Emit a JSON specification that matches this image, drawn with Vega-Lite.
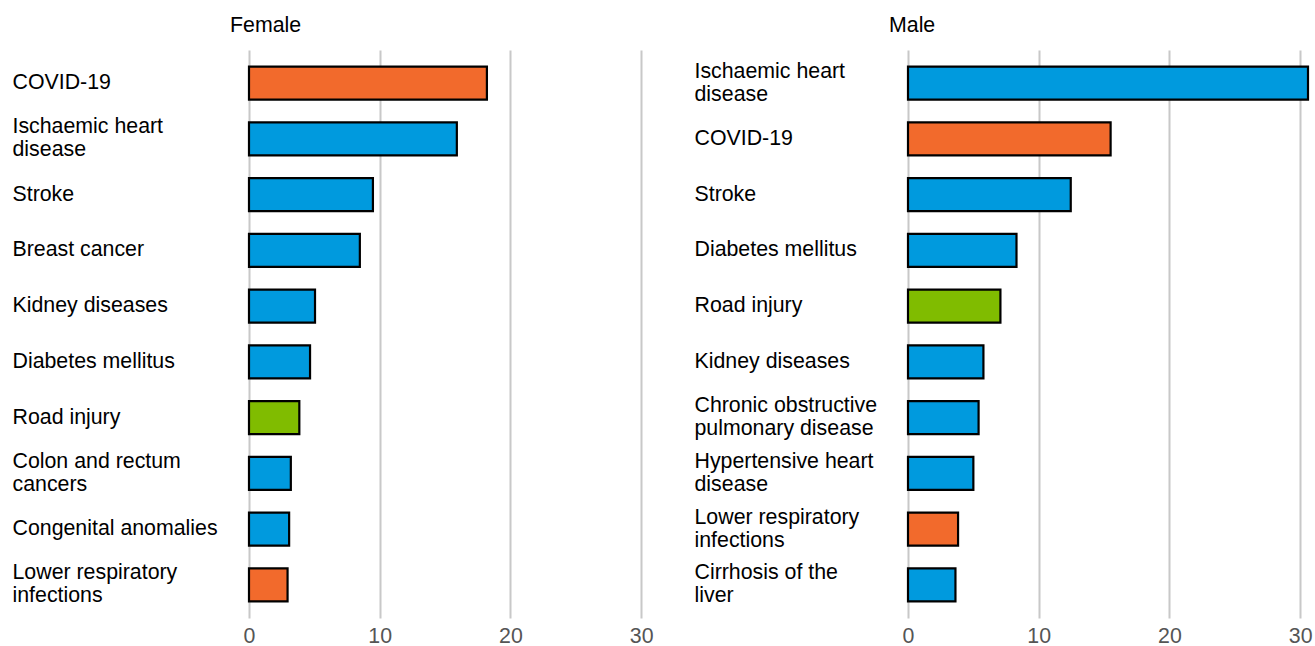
{
  "$schema": "https://vega.github.io/schema/vega-lite/v6.json",
  "background": "white",
  "padding": {"left": 12, "top": 14, "right": 0, "bottom": 0},
  "spacing": 40,
  "config": {
    "view": {"stroke": null},
    "font": "Liberation Sans",
    "title": {"fontSize": 21.33, "fontWeight": "normal", "color": "#000000", "anchor": "start", "frame": "group", "baseline": "alphabetic", "offset": 14, "dx": -19},
    "axisX": {"grid": true, "gridColor": "#c8c8c8", "gridWidth": 2, "domain": false, "ticks": false, "tickSize": 0, "labelFontSize": 21.33, "labelColor": "#555555", "labelPadding": 7, "title": null, "labelFlush": false},
    "axisY": {"grid": false, "domain": false, "ticks": false, "tickSize": 0, "labelFontSize": 21.33, "labelColor": "#000000", "labelAlign": "left", "labelLineHeight": 23, "labelLimit": 400, "title": null}
  },
  "data": {
    "values": [
      {"sex": "Female", "cause": "COVID-19", "group": "Communicable", "value": 18.2},
      {"sex": "Female", "cause": "Ischaemic heart\ndisease", "group": "Noncommunicable", "value": 15.9},
      {"sex": "Female", "cause": "Stroke", "group": "Noncommunicable", "value": 9.48},
      {"sex": "Female", "cause": "Breast cancer", "group": "Noncommunicable", "value": 8.48},
      {"sex": "Female", "cause": "Kidney diseases", "group": "Noncommunicable", "value": 5.05},
      {"sex": "Female", "cause": "Diabetes mellitus", "group": "Noncommunicable", "value": 4.67},
      {"sex": "Female", "cause": "Road injury", "group": "Injuries", "value": 3.85},
      {"sex": "Female", "cause": "Colon and rectum\ncancers", "group": "Noncommunicable", "value": 3.2},
      {"sex": "Female", "cause": "Congenital anomalies", "group": "Noncommunicable", "value": 3.07},
      {"sex": "Female", "cause": "Lower respiratory\ninfections", "group": "Communicable", "value": 2.95},
      {"sex": "Male", "cause": "Ischaemic heart\ndisease", "group": "Noncommunicable", "value": 30.6},
      {"sex": "Male", "cause": "COVID-19", "group": "Communicable", "value": 15.5},
      {"sex": "Male", "cause": "Stroke", "group": "Noncommunicable", "value": 12.45},
      {"sex": "Male", "cause": "Diabetes mellitus", "group": "Noncommunicable", "value": 8.3},
      {"sex": "Male", "cause": "Road injury", "group": "Injuries", "value": 7.07},
      {"sex": "Male", "cause": "Kidney diseases", "group": "Noncommunicable", "value": 5.77},
      {"sex": "Male", "cause": "Chronic obstructive\npulmonary disease", "group": "Noncommunicable", "value": 5.4},
      {"sex": "Male", "cause": "Hypertensive heart\ndisease", "group": "Noncommunicable", "value": 5.0},
      {"sex": "Male", "cause": "Lower respiratory\ninfections", "group": "Communicable", "value": 3.83},
      {"sex": "Male", "cause": "Cirrhosis of the\nliver", "group": "Noncommunicable", "value": 3.63}
    ]
  },
  "hconcat": [
    {
      "title": "Female",
      "width": 400,
      "height": 568,
      "transform": [{"filter": "datum.sex === 'Female'"}],
      "mark": {"type": "bar", "stroke": "#000000", "strokeWidth": 2.2},
      "encoding": {
        "x": {"field": "value", "type": "quantitative", "scale": {"domain": [0, 30.6], "nice": false}, "axis": {"values": [0, 10, 20, 30]}},
        "y": {"field": "cause", "type": "nominal", "sort": {"field": "value", "order": "descending"}, "scale": {"paddingInner": 0.41, "paddingOuter": 0.3}, "axis": {"labelPadding": 237, "labelExpr": "split(datum.value, '\\n')", "labelOffset": {"condition": {"test": "indexof(datum.value, '\\n') >= 0", "value": -11.5}, "value": 0}}},
        "color": {"field": "group", "type": "nominal", "scale": {"domain": ["Communicable", "Noncommunicable", "Injuries"], "range": ["#f26a2c", "#009ade", "#80bc00"]}, "legend": null}
      }
    },
    {
      "title": "Male",
      "width": 400,
      "height": 568,
      "transform": [{"filter": "datum.sex === 'Male'"}],
      "mark": {"type": "bar", "stroke": "#000000", "strokeWidth": 2.2},
      "encoding": {
        "x": {"field": "value", "type": "quantitative", "scale": {"domain": [0, 30.6], "nice": false}, "axis": {"values": [0, 10, 20, 30]}},
        "y": {"field": "cause", "type": "nominal", "sort": {"field": "value", "order": "descending"}, "scale": {"paddingInner": 0.41, "paddingOuter": 0.3}, "axis": {"labelPadding": 214, "labelExpr": "split(datum.value, '\\n')", "labelOffset": {"condition": {"test": "indexof(datum.value, '\\n') >= 0", "value": -11.5}, "value": 0}}},
        "color": {"field": "group", "type": "nominal", "scale": {"domain": ["Communicable", "Noncommunicable", "Injuries"], "range": ["#f26a2c", "#009ade", "#80bc00"]}, "legend": null}
      }
    }
  ],
  "resolve": {"scale": {"y": "independent"}}
}
